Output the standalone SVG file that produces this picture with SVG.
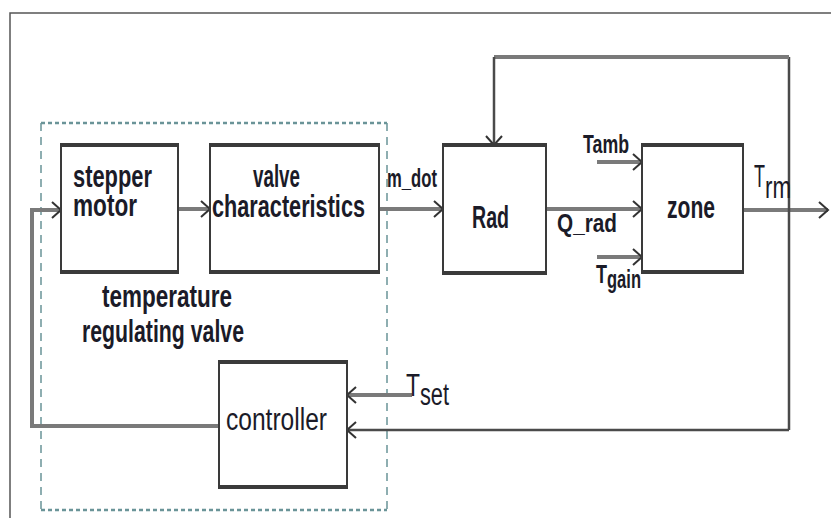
<svg xmlns="http://www.w3.org/2000/svg" width="831" height="518" viewBox="0 0 831 518">
<defs>
<style>
.box{fill:#fff;stroke:#3a3a3a;stroke-width:2}
.edge{stroke:#3a3a3a;stroke-width:4;fill:none}
.sig{fill:none;stroke:#7a7a7a;stroke-width:4}
.fb{fill:none;stroke:#4a4a4a;stroke-width:2.5}
.dash-h{stroke:#6a9498;stroke-width:2.5;stroke-dasharray:4 3;fill:none}
.dash-v{stroke:#6a9498;stroke-width:1.5;stroke-dasharray:8 6;fill:none}
text{font-family:"Liberation Sans",Arial,sans-serif;fill:#1b1b28}
.lb{font-size:32px;font-weight:bold}
.sm{font-size:26px;font-weight:bold}
.rg{font-size:31px}
</style>
<marker id="arr" markerUnits="userSpaceOnUse" markerWidth="14" markerHeight="20" viewBox="-12 -10 14 20" refX="0" refY="0" orient="auto">
<path d="M-9,-8 L0,0 L-9,8" fill="none" stroke="#333" stroke-width="2"/>
</marker>
</defs>
<rect width="831" height="518" fill="#fff"/>
<path d="M10,518 V13 H831" fill="none" stroke="#555" stroke-width="1.5"/>

<g id="valve-group">
<line class="dash-h" x1="41" y1="123" x2="387" y2="123"/>
<line class="dash-h" x1="41" y1="510" x2="387" y2="510"/>
<line class="dash-v" x1="41" y1="123" x2="41" y2="510"/>
<line class="dash-v" x1="387" y1="123" x2="387" y2="510"/>
<text class="lb" x="102" y="307" textLength="130" lengthAdjust="spacingAndGlyphs">temperature</text>
<text class="lb" x="82" y="342" textLength="162" lengthAdjust="spacingAndGlyphs">regulating valve</text>
</g>

<g id="connectors">
<path class="sig" d="M219,426 H32 V210 H61" marker-end="url(#arr)"/>
<path class="sig" d="M178,209 H210" marker-end="url(#arr)"/>
<path class="sig" d="M379,209 H443" marker-end="url(#arr)"/>
<path class="sig" d="M546,209 H642" marker-end="url(#arr)"/>
<path class="sig" d="M597,162 H642" marker-end="url(#arr)"/>
<path class="sig" d="M597,257 H642" marker-end="url(#arr)"/>
<path class="sig" d="M743,210 H828" marker-end="url(#arr)"/>
<path class="sig" d="M412,395 H347" marker-end="url(#arr)"/>
<path class="fb" d="M789,430 V57"/>
<path class="sig" d="M789,57 H494"/>
<path class="fb" d="M494,57 V145" marker-end="url(#arr)"/>
<path class="fb" d="M789,430 H347" marker-end="url(#arr)"/>
</g>

<g id="stepper-motor">
<rect class="box" x="61" y="145" width="117" height="127"/>
<line class="edge" x1="60" y1="145" x2="179" y2="145"/>
<line class="edge" x1="60" y1="272" x2="179" y2="272"/>
<text class="lb" x="73" y="187" textLength="79" lengthAdjust="spacingAndGlyphs">stepper</text>
<text class="lb" x="73" y="216" textLength="64" lengthAdjust="spacingAndGlyphs">motor</text>
</g>

<g id="valve-characteristics">
<rect class="box" x="210" y="145" width="169" height="127"/>
<line class="edge" x1="209" y1="145" x2="380" y2="145"/>
<line class="edge" x1="209" y1="272" x2="380" y2="272"/>
<text class="lb" x="253" y="187" textLength="47" lengthAdjust="spacingAndGlyphs">valve</text>
<text class="lb" x="212" y="217" textLength="153" lengthAdjust="spacingAndGlyphs">characteristics</text>
</g>

<g id="rad">
<rect class="box" x="443" y="145" width="103" height="128"/>
<line class="edge" x1="442" y1="145" x2="547" y2="145"/>
<line class="edge" x1="442" y1="273" x2="547" y2="273"/>
<text class="lb" x="472" y="228" textLength="37" lengthAdjust="spacingAndGlyphs">Rad</text>
</g>

<g id="zone">
<rect class="box" x="642" y="145" width="101" height="127"/>
<line class="edge" x1="641" y1="145" x2="744" y2="145"/>
<line class="edge" x1="641" y1="272" x2="744" y2="272"/>
<text class="lb" x="667" y="218" textLength="48" lengthAdjust="spacingAndGlyphs">zone</text>
</g>

<g id="controller">
<rect class="box" x="219" y="362" width="128" height="125"/>
<line class="edge" x1="218" y1="362" x2="348" y2="362"/>
<line class="edge" x1="218" y1="487" x2="348" y2="487"/>
<text class="rg" x="226" y="430" textLength="101" lengthAdjust="spacingAndGlyphs">controller</text>
</g>

<g id="labels">
<text class="sm" x="387" y="187" textLength="50" lengthAdjust="spacingAndGlyphs">m_dot</text>
<text class="sm" x="557" y="232" textLength="60" lengthAdjust="spacingAndGlyphs">Q_rad</text>
<text class="sm" x="583" y="153" textLength="46" lengthAdjust="spacingAndGlyphs">Tamb</text>
<text class="sm" x="596" y="283" font-size="28" textLength="11" lengthAdjust="spacingAndGlyphs">T</text>
<text class="sm" x="607" y="288" textLength="34" lengthAdjust="spacingAndGlyphs">gain</text>
<text class="rg" x="754" y="187" textLength="11" lengthAdjust="spacingAndGlyphs">T</text>
<text class="rg" x="765" y="198" font-size="26" textLength="26" lengthAdjust="spacingAndGlyphs">rm</text>
<text class="rg" x="406" y="396" font-size="42" textLength="14" lengthAdjust="spacingAndGlyphs">T</text>
<text class="rg" x="420" y="405" textLength="29" lengthAdjust="spacingAndGlyphs">set</text>
</g>
</svg>
